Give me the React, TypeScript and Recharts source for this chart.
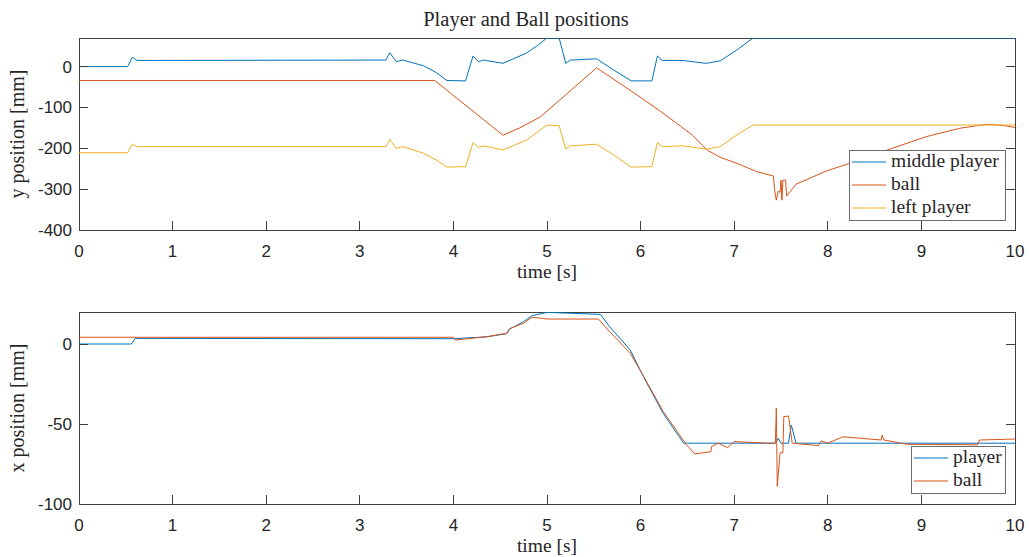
import { LineChart, Line, XAxis, YAxis, Legend, ReferenceArea } from 'recharts';

const timeTicks = [0, 1, 2, 3, 4, 5, 6, 7, 8, 9, 10];
const yPosTicks = [-400, -300, -200, -100, 0];
const xPosTicks = [-100, -50, 0];

// top panel: y positions [mm]
const middlePlayerTime = [0, 0.52, 0.57, 0.62, 3.28, 3.32, 3.39, 3.46, 3.68, 3.82, 3.93, 4.13, 4.21, 4.27, 4.32, 4.53, 4.78, 4.9, 5.0, 5.13, 5.2, 5.25, 5.53, 5.71, 5.9, 6.12, 6.18, 6.23, 6.45, 6.7, 6.85, 7.03, 7.2, 10];
const middlePlayerY = [0, 0, 23, 15, 16, 34, 12, 16, 2, -15, -34, -35, 26, 12, 16, 8, 33, 52, 70, 70, 8, 16, 19, -8, -35, -35, 26, 15, 15, 8, 14, 41, 70, 70];

const ballYTime = [0, 3.8, 4.53, 4.71, 4.93, 5.2, 5.53, 5.96, 6.24, 6.55, 6.71, 6.85, 7.03, 7.24, 7.42, 7.43, 7.45, 7.47, 7.49, 7.5, 7.51, 7.52, 7.55, 7.56, 7.66, 7.99, 8.34, 8.7, 9.06, 9.41, 9.7, 9.87, 10];
const ballY = [-34, -34, -168, -150, -123, -69, -3, -69, -114, -167, -204, -222, -237, -257, -268, -300, -327, -305, -308, -278, -327, -278, -278, -317, -288, -255, -229, -199, -171, -151, -141, -144, -149];

const leftPlayerTime = [0, 0.52, 0.57, 0.62, 3.28, 3.32, 3.39, 3.46, 3.68, 3.82, 3.93, 4.13, 4.21, 4.27, 4.32, 4.53, 4.78, 5.0, 5.13, 5.2, 5.25, 5.53, 5.71, 5.9, 6.12, 6.18, 6.23, 6.45, 6.7, 6.85, 7.03, 7.2, 10];
const leftPlayerY = [-211, -211, -190, -196, -196, -178, -200, -196, -212, -229, -246, -245, -186, -198, -194, -204, -180, -143, -145, -202, -194, -190, -216, -246, -245, -186, -196, -194, -202, -196, -167, -143, -143];

// bottom panel: x positions [mm]
const playerXTime = [0, 0.56, 0.6, 4.0, 4.36, 4.57, 4.6, 4.75, 4.84, 5.0, 5.57, 5.67, 5.89, 6.03, 6.24, 6.46, 7.44, 7.47, 7.5, 7.58, 7.61, 7.66, 10];
const playerX = [0, 0, 3.5, 3.3, 4.5, 6.5, 9.2, 14, 17.7, 19.8, 18.5, 10.8, -3.8, -20.4, -43.3, -62, -62, -59, -62, -62, -50.6, -62, -62];

const ballXTime = [0, 4.0, 4.02, 4.36, 4.57, 4.6, 4.75, 4.84, 4.95, 5.0, 5.55, 5.67, 5.89, 6.03, 6.24, 6.49, 6.58, 6.75, 6.76, 6.83, 6.93, 7.0, 7.37, 7.44, 7.45, 7.46, 7.49, 7.52, 7.53, 7.58, 7.62, 7.9, 7.93, 8.0, 8.16, 8.57, 8.58, 8.6, 8.85, 9.6, 9.62, 10];
const ballX = [4.2, 4.2, 2.5, 4.6, 6.7, 9.6, 13, 16.7, 16, 15.6, 15.6, 7.7, -5.8, -20, -42, -63, -68.7, -67.3, -64, -62, -64.8, -61, -62, -62, -40.2, -89, -68, -68, -45.4, -45, -62, -63.5, -60.5, -62, -58, -60, -57, -60, -62.7, -63, -60, -59.4];

const BLUE = '#0072BD';
const ORANGE = '#D95319';
const YELLOW = '#EDB120';

const AXIS = '#404040';
const TEXT = '#262626';
const SANS = '"Liberation Sans", Arial, sans-serif';
const SERIF = '"Liberation Serif", "Times New Roman", serif';
const TICK = 9;
const PLOT_RIGHT = 1015;

const zip = (t: number[], v: number[]) => t.map((time, i) => ({ time, value: v[i] }));

type Series = { name: string; color: string; data: { time: number; value: number }[] };

const bottomTick = (p: any) => (
    <g>
        <path d={`M${p.x},${p.y}V${p.y - TICK}`} stroke={AXIS} strokeWidth={1} fill="none" shapeRendering="crispEdges" />
        <text x={p.x} y={p.y + 27} textAnchor="middle" fontFamily={SANS} fontSize={17} fill={TEXT}>
            {p.payload.value}
        </text>
    </g>
);
const topTick = (p: any) => (
    <path d={`M${p.x},${p.y}V${p.y + TICK}`} stroke={AXIS} strokeWidth={1} fill="none" shapeRendering="crispEdges" />
);

// left ticks also mirror their mark onto the right edge of the box (MATLAB "box on")
const leftTick = (p: any) => (
    <g>
        <path
            d={`M${p.x},${p.y}H${p.x + TICK}M${PLOT_RIGHT},${p.y}H${PLOT_RIGHT - TICK}`}
            stroke={AXIS}
            strokeWidth={1}
            fill="none"
            shapeRendering="crispEdges"
        />
        <text x={p.x - 7} y={p.y + 6} textAnchor="end" fontFamily={SANS} fontSize={17} fill={TEXT}>
            {p.payload.value}
        </text>
    </g>
);

interface PanelProps {
    height: number;
    marginTop: number;
    marginBottom: number;
    yDomain: [number, number];
    yTicks: number[];
    yLabel: string;
    series: Series[];
    legendTop: number;
    legendLeft: number;
    legendWidth: number;
    title?: string;
}

function Panel({ height, marginTop, marginBottom, yDomain, yTicks, yLabel, series, legendTop, legendLeft, legendWidth, title }: PanelProps) {
    // plot box: top = marginTop + 1 (top axis), bottom = height - marginBottom - 30
    const plotTop = marginTop + 1;
    const plotBottom = height - marginBottom - 30;
    const plotMid = (plotTop + plotBottom) / 2;
    const legendHeight = series.length * 23 + 2;

    return (
        <LineChart width={1029} height={height} margin={{ top: marginTop, right: 1029 - PLOT_RIGHT, bottom: marginBottom, left: 19 }}>
            <XAxis
                dataKey="time"
                type="number"
                domain={[0, 10]}
                ticks={timeTicks}
                interval={0}
                allowDataOverflow
                tickSize={0}
                tickMargin={0}
                tick={bottomTick}
                axisLine={false}
                height={30}
                label={() => (
                    <text x={547} y={plotBottom + 48} textAnchor="middle" fontFamily={SERIF} fontSize={19.5} fill={TEXT}>
                        time [s]
                    </text>
                )}
            />
            <XAxis
                xAxisId="top"
                orientation="top"
                type="number"
                domain={[0, 10]}
                ticks={timeTicks}
                interval={0}
                allowDataOverflow
                tickSize={0}
                tickMargin={0}
                tick={topTick}
                axisLine={false}
                height={1}
                label={() =>
                    title ? (
                        <text x={526} y={26} textAnchor="middle" fontFamily={SERIF} fontSize={20.5} fill={TEXT}>
                            {title}
                        </text>
                    ) : null
                }
            />
            <YAxis
                type="number"
                domain={yDomain}
                ticks={yTicks}
                interval={0}
                allowDataOverflow
                tickSize={0}
                tickMargin={0}
                tick={leftTick}
                axisLine={false}
                width={60}
                label={() => (
                    <text
                        x={24}
                        y={plotMid}
                        transform={`rotate(-90, 24, ${plotMid})`}
                        textAnchor="middle"
                        fontFamily={SERIF}
                        fontSize={20}
                        fill={TEXT}
                    >
                        {yLabel}
                    </text>
                )}
            />
            {/* axes box */}
            <ReferenceArea
                x1={0}
                x2={10}
                y1={yDomain[0]}
                y2={yDomain[1]}
                fill="none"
                fillOpacity={0}
                stroke={AXIS}
                strokeWidth={1}
                shapeRendering="crispEdges"
                ifOverflow="visible"
            />
            {series.map((s) => (
                <Line
                    key={s.name}
                    data={s.data}
                    dataKey="value"
                    name={s.name}
                    type="linear"
                    stroke={s.color}
                    strokeWidth={1}
                    dot={false}
                    activeDot={false}
                    isAnimationActive={false}
                />
            ))}
            <Legend
                layout="vertical"
                align="center"
                verticalAlign="middle"
                wrapperStyle={{ left: legendLeft, top: legendTop, width: legendWidth, height: legendHeight }}
                content={() => (
                    <div
                        style={{
                            width: legendWidth,
                            height: legendHeight,
                            boxSizing: 'border-box',
                            border: '1px solid #6b6b6b',
                            background: '#ffffff',
                        }}
                    >
                        <svg width={legendWidth - 2} height={legendHeight - 2} style={{ display: 'block', overflow: 'visible' }}>
                            {series.map((s, i) => (
                                <g key={s.name}>
                                    <line x1={2} x2={36} y1={11 + 23 * i} y2={11 + 23 * i} stroke={s.color} />
                                    <text x={41} y={15.5 + 23 * i} fontFamily={SERIF} fontSize={19.5} fill={TEXT}>
                                        {s.name}
                                    </text>
                                </g>
                            ))}
                        </svg>
                    </div>
                )}
            />
        </LineChart>
    );
}

const topSeries: Series[] = [
    { name: 'middle player', color: BLUE, data: zip(middlePlayerTime, middlePlayerY) },
    { name: 'ball', color: ORANGE, data: zip(ballYTime, ballY) },
    { name: 'left player', color: YELLOW, data: zip(leftPlayerTime, leftPlayerY) },
];

const bottomSeries: Series[] = [
    { name: 'player', color: BLUE, data: zip(playerXTime, playerX) },
    { name: 'ball', color: ORANGE, data: zip(ballXTime, ballX) },
];

export default function App() {
    return (
        <div style={{ position: 'absolute', left: 0, top: 0, width: 1029, height: 557, background: '#ffffff' }}>
            <div style={{ position: 'absolute', left: 0, top: 280 }}>
                <Panel
                    height={277}
                    marginTop={31}
                    marginBottom={23}
                    yDomain={[-100, 20]}
                    yTicks={xPosTicks}
                    yLabel="x position [mm]"
                    series={bottomSeries}
                    legendTop={166}
                    legendLeft={911}
                    legendWidth={95}
                />
            </div>
            <div style={{ position: 'absolute', left: 0, top: 0 }}>
                <Panel
                    height={290}
                    marginTop={37}
                    marginBottom={30}
                    yDomain={[-400, 70]}
                    yTicks={yPosTicks}
                    yLabel="y position [mm]"
                    series={topSeries}
                    legendTop={150}
                    legendLeft={849}
                    legendWidth={157}
                    title="Player and Ball positions"
                />
            </div>
        </div>
    );
}
